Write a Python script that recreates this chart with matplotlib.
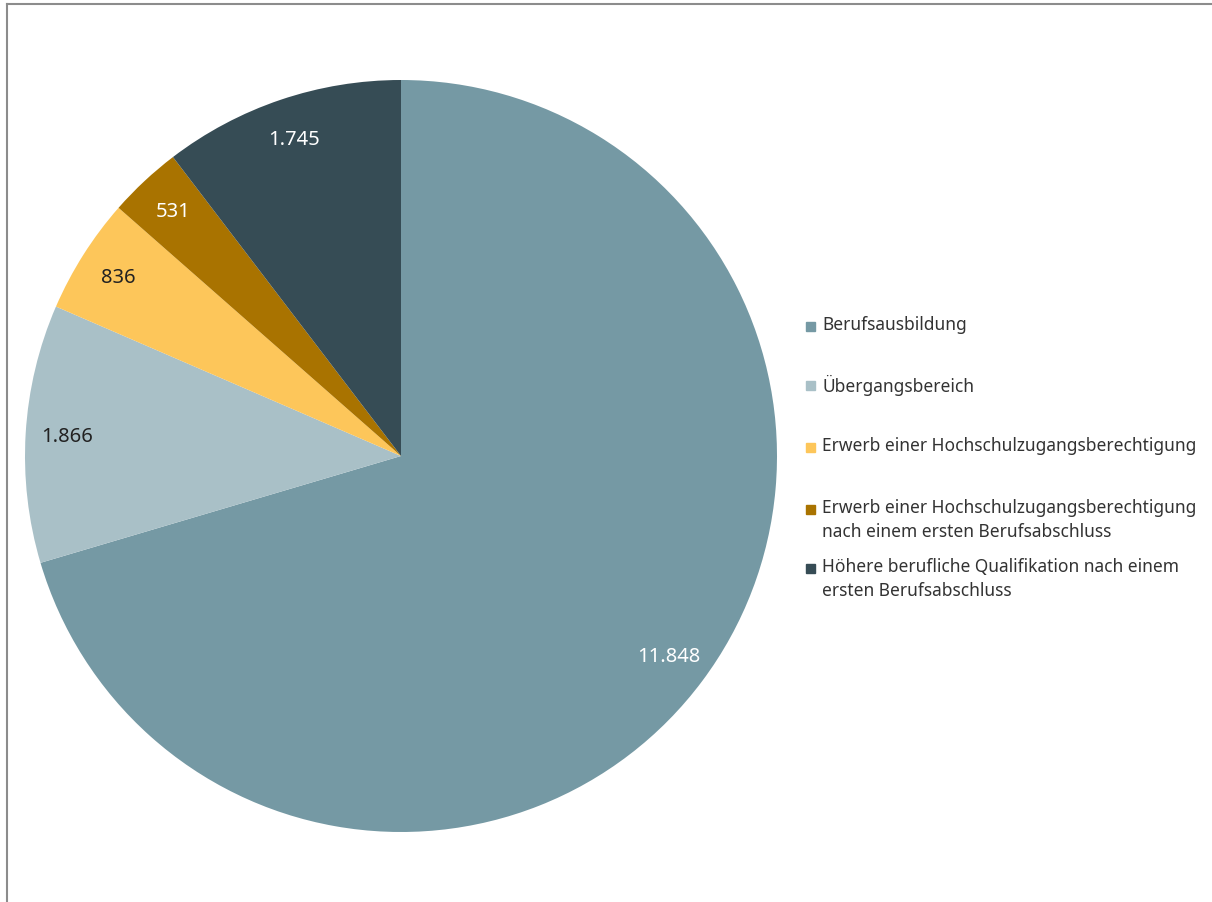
import matplotlib
matplotlib.use("Agg")
import matplotlib.pyplot as plt
from matplotlib.lines import Line2D
from matplotlib.patches import Rectangle

# Daten
kategorien = [
    "Berufsausbildung",
    "Übergangsbereich",
    "Erwerb einer Hochschulzugangsberechtigung",
    "Erwerb einer Hochschulzugangsberechtigung\nnach einem ersten Berufsabschluss",
    "Höhere berufliche Qualifikation nach einem\nersten Berufsabschluss",
]
werte = [11848, 1866, 836, 531, 1745]
farben = ["#7599a4", "#a9c0c7", "#fdc65a", "#a97300", "#364c55"]
label_farben = ["white", "#222222", "#222222", "white", "white"]

plt.rcParams["font.family"] = ["Noto Sans", "DejaVu Sans"]

W, H = 1212, 903
fig = plt.figure(figsize=(W / 100, H / 100), dpi=100)

# Position der Torte in Pixeln
cx, cy, r = 401, 457, 376
ax = fig.add_axes([(cx - r) / W, (H - cy - r) / H, 2 * r / W, 2 * r / H])

beschriftung = [f"{v:,}".replace(",", ".") for v in werte]
wedges, texte = ax.pie(werte, colors=farben, startangle=90, counterclock=False,
                       labels=beschriftung, labeldistance=0.89,
                       textprops={"fontsize": 14.5})
for t, c in zip(texte, label_farben):
    t.set_color(c)
    t.set_ha("center")
    t.set_va("center")
ax.set_xlim(-1, 1)
ax.set_ylim(-1, 1)
ax.set_aspect("equal")

# Legende von Hand, feste Zeilenabstände wie im Original
leg_y = [327, 386, 448, 510, 569]
for name, farbe, y in zip(kategorien, farben, leg_y):
    fig.patches.append(Rectangle((806 / W, (H - y - 5) / H), 9 / W, 9 / H,
                                 transform=fig.transFigure, color=farbe))
    fig.text(822 / W, (H - y + 11) / H, name, fontsize=12.5, color="#333333",
             va="top", ha="left", linespacing=1.4)

# Rahmen oben und links
fig.add_artist(Line2D([7 / W, 1.0], [1 - 5 / H, 1 - 5 / H], color="#8c8c8c", lw=1.5,
                      transform=fig.transFigure))
fig.add_artist(Line2D([7 / W, 7 / W], [0, 1 - 5 / H], color="#8c8c8c", lw=1.5,
                      transform=fig.transFigure))

fig.savefig("out.png", dpi=100)
